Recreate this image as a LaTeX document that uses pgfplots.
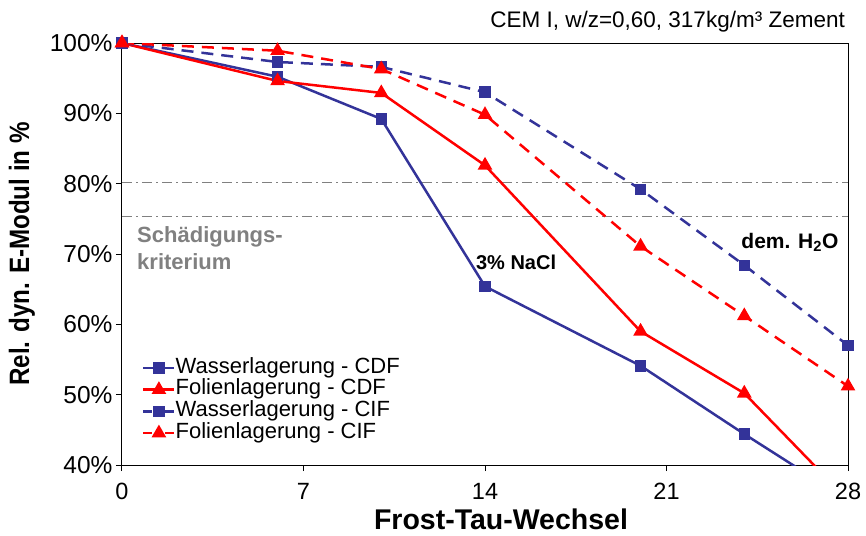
\documentclass[border=0pt]{standalone}
\usepackage{fontspec}
\setmainfont{Liberation Sans}
\usepackage{graphicx}
\usepackage{pgfplots}
\pgfplotsset{compat=1.18}
\definecolor{cblue}{RGB}{51,51,153}
\definecolor{cred}{RGB}{255,0,0}
\definecolor{cgray}{RGB}{128,128,128}
\begin{document}
\begin{tikzpicture}
\path (-122pt,-70pt) rectangle (744pt,465pt);
\begin{axis}[at={(0,0)}, anchor=south west, scale only axis, width=726pt, height=422pt,
  xmin=0, xmax=28, ymin=40, ymax=100,
  xtick={0,7,14,21,28}, ytick={40,50,...,100},
  tick align=outside, xtick pos=bottom, ytick pos=left, major tick length=6pt,
  axis line style={line width=1pt}, tick style={line width=1pt, black},
  /pgf/number format/assume math mode=true,
  yticklabel={\pgfmathprintnumber{\tick}\%},
  yticklabel style={font=\fontsize{24.5}{28}\selectfont},
  xticklabel style={font=\fontsize{23.5}{28}\selectfont, yshift=-9pt},
  xlabel={Frost-Tau-Wechsel},
  ylabel={\scalebox{0.863}[1]{Rel. dyn. E-Modul in \%}},
  xlabel style={font=\bfseries\fontsize{28.5}{32}\selectfont, at={(axis description cs:0.522,-0.154)}, anchor=base},
  ylabel style={font=\bfseries\fontsize{28}{32}\selectfont, at={(axis description cs:-0.138,0.5)}, anchor=center},
  legend style={at={(0.0275,0.256)}, anchor=north west, draw=none, fill=none,
    font=\fontsize{22}{22}\selectfont, row sep=0pt, inner sep=0pt,
    nodes={inner sep=0pt, text height=16pt, text depth=5.7pt}},
  legend cell align=left,
  legend image code/.code={%
    \draw[#1, mark=none, line width=2.5pt] (0pt,0pt) -- (31pt,0pt);
    \draw[#1, solid] plot coordinates {(15.5pt,0pt)};},
]
\addplot[cgray, line width=1.5pt, dash pattern=on 10pt off 4pt on 2pt off 4pt, forget plot] coordinates {(0,80.2) (28,80.2)};
\addplot[cgray, line width=1.5pt, dash pattern=on 10pt off 4pt on 2pt off 4pt, forget plot] coordinates {(0,75.3) (28,75.3)};
\addplot[cblue, solid, line width=2.5pt, mark=square*, mark size=4.5pt, mark options={solid}] coordinates {
(0,100) (6,95.2) (10,89.2) (14,65.4) (20,54.1) (24,44.4) (28,35.0)};
\addlegendentry{Wasserlagerung - CDF}
\addplot[cred, solid, line width=2.5pt, mark=triangle*, mark size=6pt, mark options={solid}] coordinates {
(0,100) (6,94.6) (10,92.9) (14,82.6) (20,59.0) (24,50.2) (28,35.0)};
\addlegendentry{Folienlagerung - CDF}
\addplot[cblue, line width=2.5pt, dash pattern=on 12pt off 8pt, mark=square*, mark size=4.5pt, mark options={solid}, legend image post style={dash pattern=on 9pt off 13pt}] coordinates {
(0,100) (6,97.3) (10,96.6) (14,93.0) (20,79.2) (24,68.4) (28,57.0)};
\addlegendentry{Wasserlagerung - CIF}
\addplot[cred, line width=2.5pt, dash pattern=on 12pt off 8pt, mark=triangle*, mark size=6pt, mark options={solid}, legend image post style={dash pattern=on 9pt off 13pt}] coordinates {
(0,100) (6,98.9) (10,96.3) (14,89.8) (20,71.1) (24,61.2) (28,51.2)};
\addlegendentry{Folienlagerung - CIF}
\node[anchor=north west, align=left, text=cgray, font=\bfseries\fontsize{22}{27}\selectfont, inner sep=0pt] at (axis cs:0.58,74.0) {Schädigungs-\\kriterium};
\node[font=\bfseries\fontsize{20}{24}\selectfont] at (axis cs:15.2,68.85) {3\% NaCl};
\node[font=\bfseries\fontsize{21}{24}\selectfont] at (axis cs:25.76,71.7) {dem. H\textsubscript{2}O};
\end{axis}
\node[anchor=base east, font=\fontsize{22.5}{26}\selectfont, inner sep=0pt] at (723pt,437pt) {CEM I, w/z=0,60, 317kg/m³ Zement};
\end{tikzpicture}
\end{document}
